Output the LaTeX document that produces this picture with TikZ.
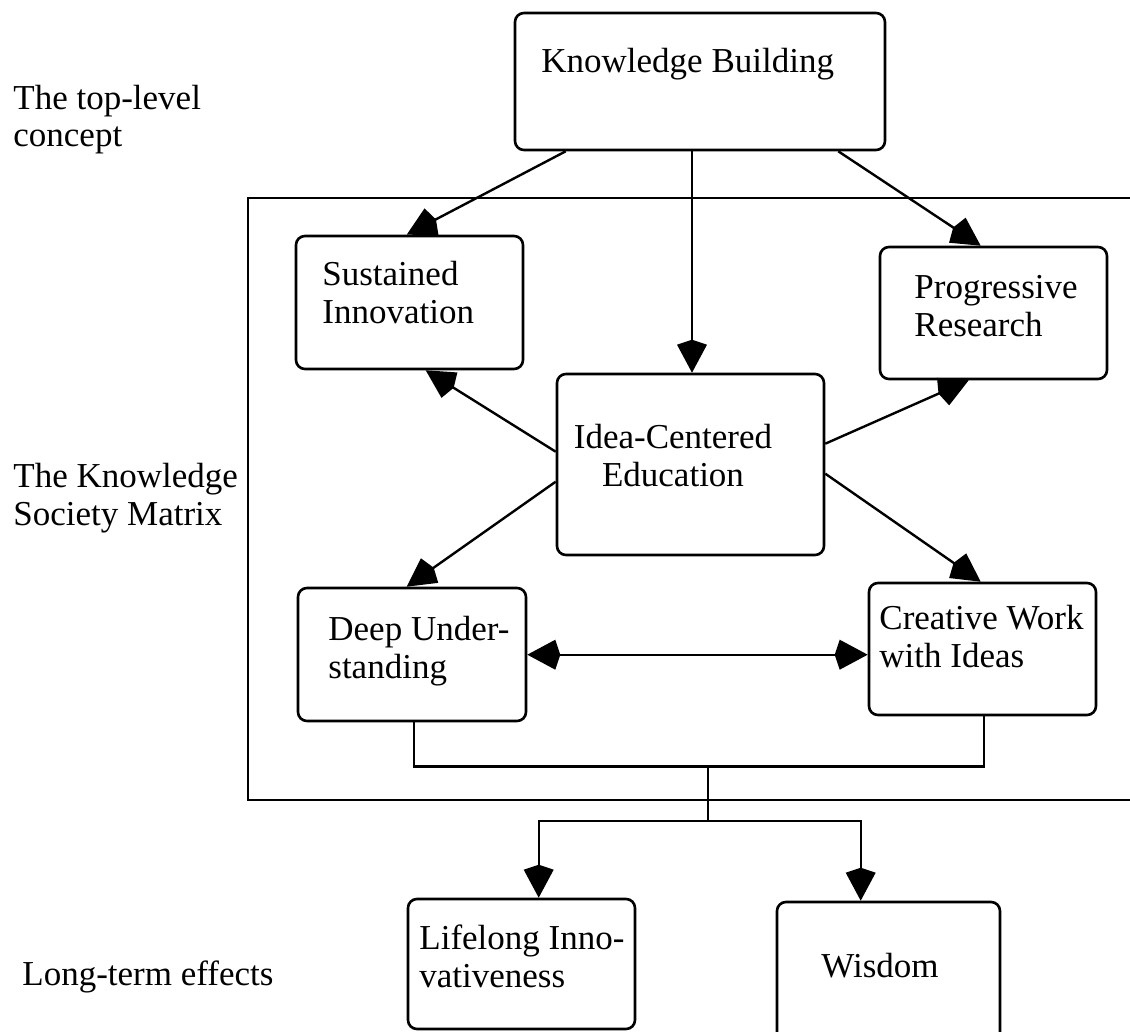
\documentclass[tikz,border=0pt]{standalone}
\usepackage{fontspec}
\setmainfont{Liberation Serif}
\usetikzlibrary{arrows.meta,calc}
\begin{document}
\begin{tikzpicture}[x=0.5pt,y=-0.5pt,
  box/.style={draw,line width=1.3pt,rounded corners=4.5pt,inner sep=0pt},
  frame/.style={draw,line width=1.2pt,inner sep=0pt},
  lbl/.style={inner sep=0pt,font=\fontsize{17.5}{18.8}\selectfont,align=left,anchor=base west},
  conn/.style={line width=1.2pt},
  tip/.tip={Kite[length=16.5pt,width=15pt,inset=2.5pt]},
  arr/.style={conn,-tip},
  darr/.style={conn,tip-tip}]
\useasboundingbox (0,0) rectangle (1130,1032);
\clip (0,0) rectangle (1130,1032);
% frame of the matrix
\node[frame,minimum width=446pt,minimum height=301pt] (matrix) at (694,499) {};
% boxes
\node[box,minimum width=185pt,minimum height=68.5pt] (kb) at (700,81.5) {};
\node[box,minimum width=113.5pt,minimum height=66.5pt] (si) at (409.5,302.5) {};
\node[box,minimum width=113.5pt,minimum height=66pt] (pr) at (993.5,313) {};
\node[box,minimum width=133.5pt,minimum height=90.5pt] (ice) at (690.5,464.5) {};
\node[box,minimum width=114pt,minimum height=66.5pt] (du) at (412,654.5) {};
\node[box,minimum width=113.5pt,minimum height=66pt] (cw) at (982.5,649) {};
\node[box,minimum width=113.5pt,minimum height=65pt] (li) at (521.5,964) {};
\node[box,minimum width=111.5pt,minimum height=71.5pt] (wi) at (888.5,973.5) {};
% texts (base anchor = baseline of the last line)
\node[lbl] (tkb) at (541,73) {Knowledge Building};
\node[lbl] (tsi) at (322,323) {Sustained\\Innovation};
\node[lbl] (tpr) at (914,336) {Progressive\\Research};
\node[lbl,align=center,anchor=base] (tice) at (673,486) {Idea-Centered\\Education};
\node[lbl] (tdu) at (328,678) {Deep Under-\\standing};
\node[lbl] (tcw) at (879,667) {Creative Work\\with Ideas};
\node[lbl] (tli) at (419,987) {Lifelong Inno-\\vativeness};
\node[lbl] (twi) at (821,977) {Wisdom};
\node[lbl] (ltop) at (13,147) {The top-level\\concept};
\node[lbl] (lmat) at (13,525) {The Knowledge\\Society Matrix};
\node[lbl] (llong) at (22,985) {Long-term effects};
% connectors
\draw[arr] ($(kb.south west)+(52,0)$) -- ($(si.north west)+(112,0)$);
\draw[arr] ($(kb.south)+(-8,0)$) -- ($(ice.north)+(1.5,0)$);
\draw[arr] ($(kb.south east)+(-48,0)$) -- ($(pr.north west)+(102,0)$);
\draw[arr] ($(ice.north west)+(0,79)$) -- ($(si.south west)+(131,0)$);
\draw[arr] ($(ice.north east)+(0,71)$) -- ($(pr.south west)+(90,0)$);
\draw[arr] ($(ice.north west)+(0,109)$) -- ($(du.north west)+(110,0)$);
\draw[arr] ($(ice.north east)+(0,101)$) -- ($(cw.north west)+(113,0)$);
\draw[darr] ($(du.north east)+(0,68)$) -- ($(cw.north west)+(0,73)$);
\draw[conn] ($(du.south west)+(117,0)$) |- ($(cw.south west)+(116,50)$) -- ($(cw.south west)+(116,0)$);
\coordinate (split) at (708,765);
\coordinate (fork) at (708,821);
\draw[conn] (split) -- (fork);
\draw[arr] (fork) -| ($(li.north west)+(132,0)$);
\draw[arr] (fork) -| ($(wi.north west)+(85,0)$);
\end{tikzpicture}
\end{document}
